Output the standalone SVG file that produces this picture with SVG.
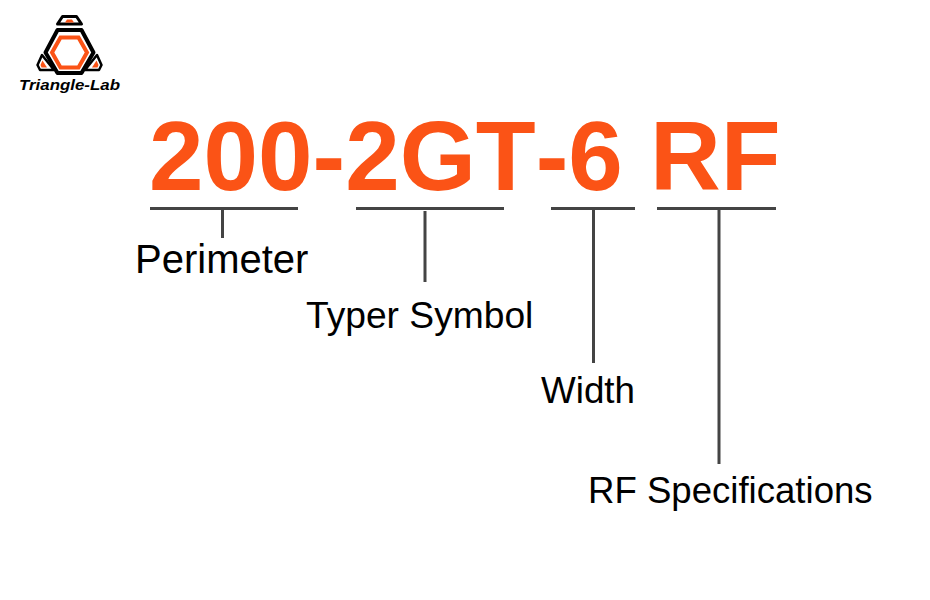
<svg xmlns="http://www.w3.org/2000/svg" width="930" height="600" viewBox="0 0 930 600">
<style>
.t{font-family:"Liberation Sans",Arial,sans-serif;fill:#000}
.h{font-family:"Liberation Sans",Arial,sans-serif;font-weight:700;fill:#fb5316;font-size:98px;font-kerning:none}
.c{stroke:#444;stroke-width:3;fill:none}
.k{fill:none;stroke:#000;stroke-linejoin:round}
.o{fill:none;stroke:#fb5316}
</style>
<rect width="930" height="600" fill="#fff"/>
<g id="logo">
<path class="k" stroke-width="3" d="M62.500 16.500H76.500L81.500 24H57.500Z"/>
<path d="M67 19.500H72L74 22.500H65Z" fill="#fb5316"/>
<path class="k" stroke-width="4" d="M57.500 30H81.500L93.500 52.500L81.500 73H57.500L45.500 52.500Z"/>
<path class="o" stroke-width="4" d="M60.500 37.500H78.500L87 52.500L78.500 67.500H60.500L52 52.500Z"/>
<path class="k" stroke-width="2.500" d="M42 55L37.500 65L40 70H54Z"/>
<path d="M42.500 60.500L40.500 65L41.500 67.500H47Z" fill="#fb5316"/>
<path class="k" stroke-width="2.500" d="M97 55L101.500 65L99 70H85Z"/>
<path d="M96.500 60.500L98.500 65L97.500 67.500H92Z" fill="#fb5316"/>
<text x="19" y="90" textLength="101" lengthAdjust="spacingAndGlyphs" style="font-family:'Liberation Sans',Arial,sans-serif;font-weight:700;font-style:italic;font-size:15px;fill:#000">Triangle-Lab</text>
</g>
<text id="title" class="h" x="149" y="190">200-2GT-6 RF</text>
<g id="connectors">
<path class="c" d="M150 208.500H298M222.500 209V238M356 208.500H504M425 211V282M551 208.500H635M593.500 209V363M657 208.500H776M719 209V464"/>
</g>
<g id="perimeter"><text class="t" font-size="40" x="135" y="273">Perimeter</text></g>
<g id="typer"><text class="t" font-size="37.200" x="306" y="328">Typer Symbol</text></g>
<g id="width"><text class="t" font-size="36.800" x="541" y="403">Width</text></g>
<g id="rf"><text class="t" font-size="36.600" x="588" y="503">RF Specifications</text></g>
</svg>
